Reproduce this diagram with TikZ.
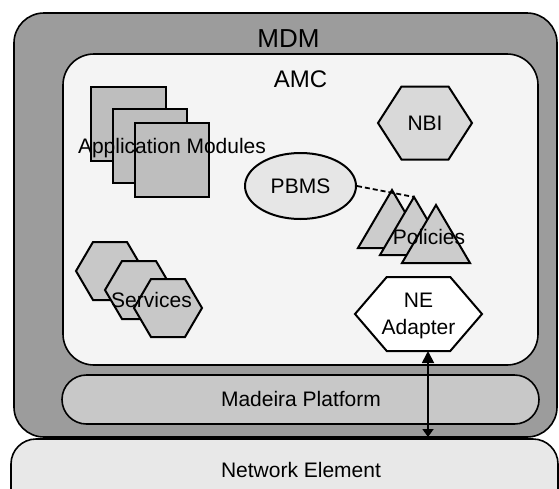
\documentclass[tikz,border=0pt]{standalone}
\usepackage{fontspec}
\setmainfont{Liberation Sans}
\usetikzlibrary{shapes.geometric,arrows.meta}

\definecolor{mdmgray}{HTML}{9C9C9C}
\definecolor{amcfill}{HTML}{F4F4F4}
\definecolor{platfill}{HTML}{C8C8C8}
\definecolor{nefill}{HTML}{E8E8E8}
\definecolor{modfill}{HTML}{BEBEBE}
\definecolor{nbifill}{HTML}{D9D9D9}
\definecolor{pbmsfill}{HTML}{E6E6E6}
\definecolor{polfill}{HTML}{CCCCCC}
\definecolor{svcfill}{HTML}{C8C8C8}

\tikzset{
  frame/.style={draw=black, line width=1.6pt, line join=round},
  part/.style={draw=black, line width=2pt, line join=miter},
  label/.style={font=\fontsize{21}{24}\selectfont, inner sep=0pt, anchor=base},
}

% hexagon: centre x, centre y, half width, half height, fill colour
\newcommand\hexat[5]{%
  \path[part, fill=#5] (#1-#3,#2) -- (#1-#3/2,#2-#4) -- (#1+#3/2,#2-#4)
    -- (#1+#3,#2) -- (#1+#3/2,#2+#4) -- (#1-#3/2,#2+#4) -- cycle;}
% triangle: apex x, apex y
\newcommand\triat[2]{%
  \path[part, fill=polfill] (#1,#2) -- (#1+34,#2+58) -- (#1-34,#2+58) -- cycle;}

\begin{document}
\begin{tikzpicture}[x=1pt, y=-1pt]
\useasboundingbox (0,0) rectangle (559,488);

% outer containers
\path[frame, fill=nefill, rounded corners=25pt] (11,439) rectangle (558,520);
\path[frame, fill=mdmgray, rounded corners=30pt] (14,13) rectangle (557,437);
\path[frame, fill=amcfill, rounded corners=31pt] (63,54) rectangle (538,365);
\path[frame, fill=platfill, rounded corners=24.5pt] (62,375) rectangle (539,424);

\node[label, font=\fontsize{26}{29}\selectfont] (mdm) at (288.5,47) {MDM};
\node[label, font=\fontsize{24}{27}\selectfont] (amc) at (300.5,87) {AMC};

% application modules
\path[part, fill=modfill] (91,87) rectangle (166,161);
\path[part, fill=modfill] (113,109) rectangle (187,183);
\path[part, fill=modfill] (135,123) rectangle (209,197);
\node[label] (apps) at (172,153) {Application Modules};

% northbound interface
\hexat{425}{123}{47}{36.5}{nbifill}
\node[label] (nbi) at (425,130) {NBI};

% policy based management
\node[part, ellipse, fill=pbmsfill, minimum width=111pt, minimum height=66pt,
      inner sep=0pt] (pbms) at (300.5,186) {};
\node[label] (pbmstext) at (300.5,193) {PBMS};

\triat{392}{190}
\triat{414}{197}
\triat{436}{205}
\coordinate (poltop) at (414,197);
\node[label] (policies) at (429,244) {Policies};
\draw[line width=1.8pt, dash pattern=on 5pt off 3pt] (pbms.east) -- (poltop);

% services
\hexat{110}{271}{34}{29}{svcfill}
\hexat{139}{290}{34}{29}{svcfill}
\hexat{168}{308}{34}{29}{svcfill}
\node[label] (services) at (151.5,307) {Services};

% network element adapter
\hexat{418.5}{314}{63.5}{37}{white}
\node[label] (adapterA) at (418.5,307) {NE};
\node[label] (adapterB) at (418.5,334) {Adapter};
\coordinate (adapterbase) at (428,351);
\coordinate (mdmbase) at (428,437);

% platform and network element labels
\node[label] (platform) at (301,406) {Madeira Platform};
\node[label] (ne) at (301,477) {Network Element};

\draw[line width=1.8pt, {Triangle[length=12pt,width=12pt]}-{Triangle[length=8pt,width=11pt]}]
  (adapterbase) -- (mdmbase);
\end{tikzpicture}
\end{document}
